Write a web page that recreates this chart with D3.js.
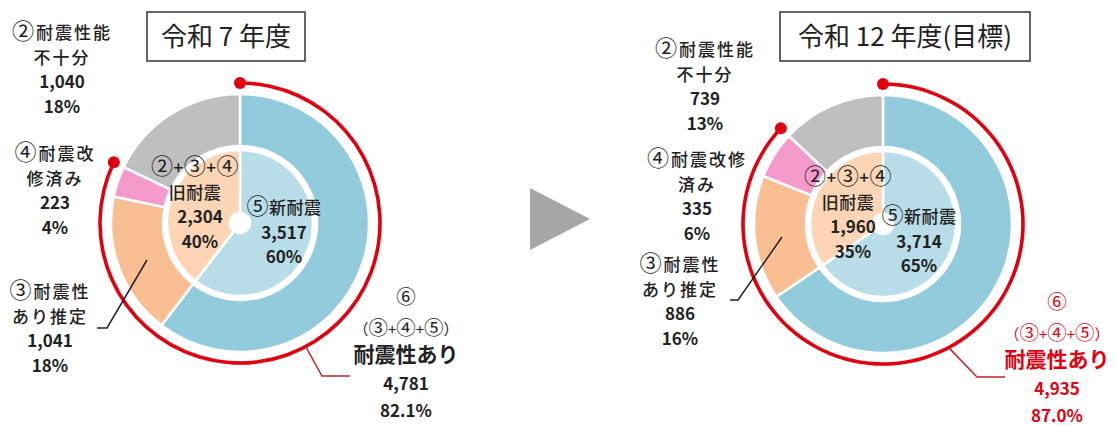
<!DOCTYPE html>
<html>
<head>
<meta charset="utf-8">
<script src="https://cdn.jsdelivr.net/npm/d3@7"></script>
<style>
  body { margin: 0; background: #fff; }
  text { font-family: "Noto Sans CJK JP", "Noto Sans", sans-serif; fill: #222; }
</style>
</head>
<body>
<svg id="chart" width="1116" height="426"></svg>
<script>
// data
var titles = ["令和 7 年度", "令和 12 年度(目標)"];
var outerKeys = ["new", "est", "retro", "weak"];      // ⑤, ③, ④, ②
var outerNames = [["⑤新耐震"], ["③耐震性", "あり推定"], ["④耐震改", "修済み"], ["②耐震性能", "不十分"]];
var outerNames12 = [["⑤新耐震"], ["③耐震性", "あり推定"], ["④耐震改修", "済み"], ["②耐震性能", "不十分"]];
var outer7 = [3517, 1041, 223, 1040];
var outer12 = [3714, 886, 335, 739];
var innerNames = [["⑤新耐震"], ["②+③+④", "旧耐震"]];
var inner7 = [3517, 2304];
var inner12 = [3714, 1960];
var okNames = ["⑥", "（③+④+⑤）", "耐震性あり"];

var outerColors = ["#92cbdc", "#f9bf92", "#f49bcb", "#bfbfbf"];
var innerColors = ["#b8dde8", "#fbd5b5"];
var red = "#e0000f";

var svg = d3.select("#chart");
var fmt = d3.format(",");
var pct = d3.format(".0%");

// layout of each of the two charts (offsets from the centre)
var layouts = [
  { cx: 240, cy: 223, vals: outer7, inner: inner7, names: outerNames, okColor: "#222",
    lbl: { weak: [-178, -190], retro: [-185, -69], est: [-190, 69] },
    inLbl: [[44, -15], [-45, -55]],
    estLine: [[-143, 105], [-133, 105], [-93, 37]],
    ok: [166, 77], okLine: [[82, 153], [110, 153]] },
  { cx: 883, cy: 224, vals: outer12, inner: inner12, names: outerNames12, okColor: red,
    lbl: { weak: [-178, -174], retro: [-186, -64], est: [-203, 41] },
    inLbl: [[36, -7], [-35, -46]],
    estLine: [[-153, 76], [-145, 76], [-101, 13]],
    ok: [174, 81], okLine: [[94, 153], [122, 153]] }
];

var rHole = 10, rIn = 73, rOut0 = 77, rOut = 129, rRed = 140;

var pie = d3.pie().sort(null).value(function(d) { return d; });
var arcIn = d3.arc().innerRadius(rHole).outerRadius(rIn);
var arcOut = d3.arc().innerRadius(rOut0).outerRadius(rOut);

// circled digits come out small in this font, so blow them up a bit
function addLine(t, s, x, y, attrs) {
  var line = t.append("tspan").attr("x", x).attr("y", y);
  Object.keys(attrs).forEach(function(k) { line.attr(k, attrs[k]); });
  s.split(/([①-⑩])/).forEach(function(part) {
    if (!part) return;
    var sp = line.append("tspan").text(part);
    if (/[①-⑩]/.test(part)) sp.attr("font-size", "1.3em").attr("font-weight", "normal");
  });
  return line;
}

layouts.forEach(function(L, ci) {
  var g = svg.append("g").attr("transform", "translate(" + L.cx + "," + L.cy + ")");
  var total = d3.sum(L.vals);

  // outer ring
  g.selectAll("path.out")
    .data(pie(L.vals))
    .enter().append("path")
    .attr("class", "out")
    .attr("d", arcOut)
    .attr("fill", function(d, i) { return outerColors[i]; })
    .attr("stroke", "#fff").attr("stroke-width", 2.5);

  // white gap ring
  g.append("circle").attr("r", (rIn + rOut0) / 2).attr("fill", "none")
    .attr("stroke", "#fff").attr("stroke-width", rOut0 - rIn);

  // inner ring
  g.selectAll("path.in")
    .data(pie(L.inner))
    .enter().append("path")
    .attr("class", "in")
    .attr("d", arcIn)
    .attr("fill", function(d, i) { return innerColors[i]; })
    .attr("stroke", "#fff").attr("stroke-width", 2.5);

  // red arc around ③+④+⑤
  var okVal = L.vals[0] + L.vals[1] + L.vals[2];
  var endA = okVal / total * 2 * Math.PI;
  g.append("path")
    .attr("d", d3.arc().innerRadius(rRed - 1.8).outerRadius(rRed + 1.8).startAngle(0).endAngle(endA)())
    .attr("fill", red);
  [0, endA].forEach(function(a) {
    g.append("circle")
      .attr("cx", rRed * Math.sin(a)).attr("cy", -rRed * Math.cos(a))
      .attr("r", 6).attr("fill", red);
  });

  // outer labels ②, ④, ③
  ["weak", "retro", "est"].forEach(function(k) {
    var i = outerKeys.indexOf(k);
    var p = L.lbl[k];
    var lines = L.names[i].concat([fmt(L.vals[i]), pct(L.vals[i] / total)]);
    var t = g.append("text").attr("text-anchor", "middle").attr("font-size", 17);
    lines.forEach(function(s, j) {
      var isNum = j >= L.names[i].length;
      addLine(t, s, p[0], p[1] + j * 24.5 + 6, {
        "font-weight": isNum ? "bold" : 500,
        "letter-spacing": isNum ? 0 : 2
      });
    });
  });

  // leader line for ③
  g.append("path")
    .attr("d", d3.line()(L.estLine))
    .attr("fill", "none").attr("stroke", "#222").attr("stroke-width", 1.5);

  // inner labels
  var innerTotal = d3.sum(L.inner);
  L.inner.forEach(function(v, i) {
    var p = L.inLbl[i];
    var lines = innerNames[i].concat([fmt(v), pct(v / innerTotal)]);
    var t = g.append("text").attr("text-anchor", "middle").attr("font-size", 17);
    lines.forEach(function(s, j) {
      var isNum = j >= innerNames[i].length;
      addLine(t, s, p[0] + (isNum && i == 1 ? 5 : 0), p[1] + j * 24.5 + 6, {
        "font-weight": isNum ? "bold" : 500,
        "letter-spacing": isNum ? 0 : 0.5
      });
    });
  });

  // ⑥ label
  var okLines = okNames.concat([fmt(okVal), d3.format(".1%")(okVal / total)]);
  var t6 = g.append("text").attr("text-anchor", "middle").style("fill", L.okColor);
  okLines.forEach(function(s, j) {
    addLine(t6, s, L.ok[0], L.ok[1] + j * 27.5 + (j == 0 ? 4 : 7), {
      "font-size": j == 2 ? 21 : (j < 2 ? 15 : 17),
      "font-weight": j == 0 || j == 1 ? "normal" : "bold"
    }).style("fill", L.okColor);
  });
  var a6 = 152 * Math.PI / 180;
  g.append("path")
    .attr("d", d3.line()([[rRed * Math.sin(a6), -rRed * Math.cos(a6)]].concat(L.okLine)))
    .attr("fill", "none").attr("stroke", "#c0262d").attr("stroke-width", 1.5);
});

// title boxes
var boxes = [{ x: 147, w: 158 }, { x: 780, w: 250 }];
titles.forEach(function(s, i) {
  var b = boxes[i];
  svg.append("rect").attr("x", b.x).attr("y", 12).attr("width", b.w).attr("height", 49)
    .attr("fill", "#fff").attr("stroke", "#333").attr("stroke-width", 1.5);
  svg.append("text").attr("x", b.x + b.w / 2).attr("y", 46)
    .attr("text-anchor", "middle").attr("font-size", 26)
    .text(s);
});

// arrow between the two charts
svg.append("path")
  .attr("d", d3.line()([[530, 188], [590, 219], [530, 250]]) + "Z")
  .attr("fill", "#a6a6a6");
</script>
</body>
</html>
